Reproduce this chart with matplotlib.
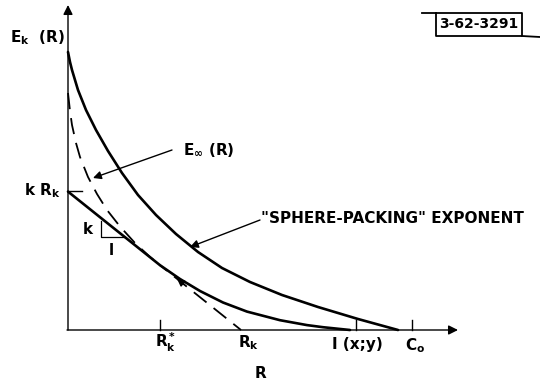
import numpy as np
import matplotlib
matplotlib.use('Agg')
import matplotlib.pyplot as plt

# curve values (R along x, exponent along y)
R_sphere = [0.0, 0.02, 0.04, 0.10, 0.18, 0.28, 0.40, 0.54, 0.70, 0.88,
            1.08, 1.30, 1.54, 1.82, 2.14, 2.50, 2.90, 3.30]
E_sphere = [2.78, 2.68, 2.60, 2.40, 2.20, 2.00, 1.79, 1.57, 1.35, 1.15,
            0.96, 0.78, 0.62, 0.48, 0.35, 0.23, 0.11, 0.0]

R_inf = [0.0, 0.02, 0.04, 0.08, 0.12, 0.20, 0.29, 0.39, 0.52, 0.67,
         0.82, 0.92, 1.12, 1.32, 1.55, 1.79, 2.12, 2.39, 2.55, 2.82]
E_inf = [2.37, 2.19, 2.05, 1.87, 1.73, 1.53, 1.36, 1.20, 1.035, 0.87,
         0.73, 0.65, 0.51, 0.39, 0.275, 0.184, 0.098, 0.049, 0.028, 0.0]

k = 0.80
R_k = 1.73
R_k_star = 0.92
I_xy = 2.88
C_0 = 3.44

tick_pos = [R_k_star, I_xy, C_0]

plt.rcParams['mathtext.default'] = 'regular'
plt.rcParams['font.family'] = ['DejaVu Sans']

fig = plt.figure(figsize=(5.4, 3.85), dpi=100)
ax = fig.add_axes([0, 0, 1, 1])
ax.set_xlim(-0.68, 4.72)
ax.set_ylim(-0.55, 3.30)
ax.axis('off')

# axes with arrow heads
arrow_kw = dict(arrowstyle='-|>', lw=1.0, color='black', mutation_scale=14,
                shrinkA=0, shrinkB=0)
ax.annotate('', xy=(0, 3.25), xytext=(0, 0), arrowprops=arrow_kw)
ax.annotate('', xy=(3.90, 0), xytext=(-0.01, 0), arrowprops=arrow_kw)

for x in tick_pos:
    ax.plot([x, x], [0, 0.10], color='black', lw=1.0)

# straight line of slope -k through k*R_k
def line(r):
    return k * (R_k - r)

kR_k = line(0.0)
R_inf = np.array(R_inf)
E_inf = np.array(E_inf)
above = R_inf > R_k_star
below = R_inf <= R_k_star

curve_kw = dict(color='black', lw=1.9, solid_capstyle='round',
                solid_joinstyle='round')

# sphere-packing exponent
ax.plot(R_sphere, E_sphere, **curve_kw)

# E_k(R): straight line then E_inf
ax.plot(np.r_[0.0, R_k_star, R_inf[above]],
        np.r_[kR_k, line(R_k_star), E_inf[above]], **curve_kw)

# dashed continuations
ax.plot(R_inf[below], E_inf[below], color='black', lw=1.3,
        ls=(0, (9, 5)), dash_joinstyle='round')
ax.plot([R_k_star, R_k], [line(R_k_star), line(R_k)], color='black', lw=1.3,
        ls=(4, (9, 5)))

# arrow head on the dashed tangent
tip = 1.09
ax.annotate('', xy=(tip, line(tip)), xytext=(tip + 0.07, line(tip + 0.07)),
            arrowprops=dict(arrowstyle='-|>', lw=1.0, color='black',
                            mutation_scale=11, shrinkA=0, shrinkB=0))

# short mark at k R_k
ax.plot([0, 0.14], [kR_k + 0.01, kR_k + 0.01], color='black', lw=1.0)

# slope triangle
tx = 0.33
ty = 0.93
ax.plot([tx, tx, R_k - ty / k], [line(tx) - 0.03, ty, ty], color='black', lw=0.9)

txt = dict(color='black', fontsize=11, fontweight='bold')
ax.text(0.20, 0.96, 'k', ha='center', va='baseline', **txt)
ax.text(0.43, 0.75, 'l', ha='center', va='baseline', **txt)

# labels
ax.text(-0.58, 2.88, r'$E_k$  (R)', ha='left', va='baseline', **txt)
ax.text(-0.07, 1.35, r'k $R_k$', ha='right', va='baseline', **txt)
ax.text(1.15, 1.75, r'$E_\infty$ (R)', ha='left', va='baseline', **txt)
ax.text(1.93, 1.07, '"SPHERE-PACKING" EXPONENT', ha='left', va='baseline', **txt)

ax.text(R_k_star - 0.05, -0.17, r'$R_k^*$', ha='left', va='baseline', **txt)
ax.text(R_k - 0.03, -0.17, r'$R_k$', ha='left', va='baseline', **txt)
ax.text(I_xy + 0.01, -0.19, 'I (x;y)', ha='center', va='baseline', **txt)
ax.text(C_0 - 0.07, -0.20, r'$C_o$', ha='left', va='baseline', **txt)
ax.text(1.92, -0.48, 'R', ha='center', va='baseline', **txt)

# pointer arrows
ptr = dict(arrowstyle='-|>', lw=1.0, color='black', mutation_scale=12,
           shrinkA=0, shrinkB=0)
ax.annotate('', xy=(0.25, 1.52), xytext=(1.04, 1.80), arrowprops=ptr)
ax.annotate('', xy=(1.22, 0.83), xytext=(1.92, 1.10), arrowprops=ptr)

# drawing number box
ax.plot([3.54, 3.68, 3.68, 4.54, 4.54, 3.68],
        [3.17, 3.17, 2.94, 2.94, 3.17, 3.17], color='black', lw=1.3)
ax.plot([4.54, 4.72], [2.94, 2.93], color='black', lw=1.3)
ax.text(4.11, 3.055, '3-62-3291', ha='center', va='center',
        fontsize=10, fontweight='bold')

fig.savefig('out.png', dpi=100)
